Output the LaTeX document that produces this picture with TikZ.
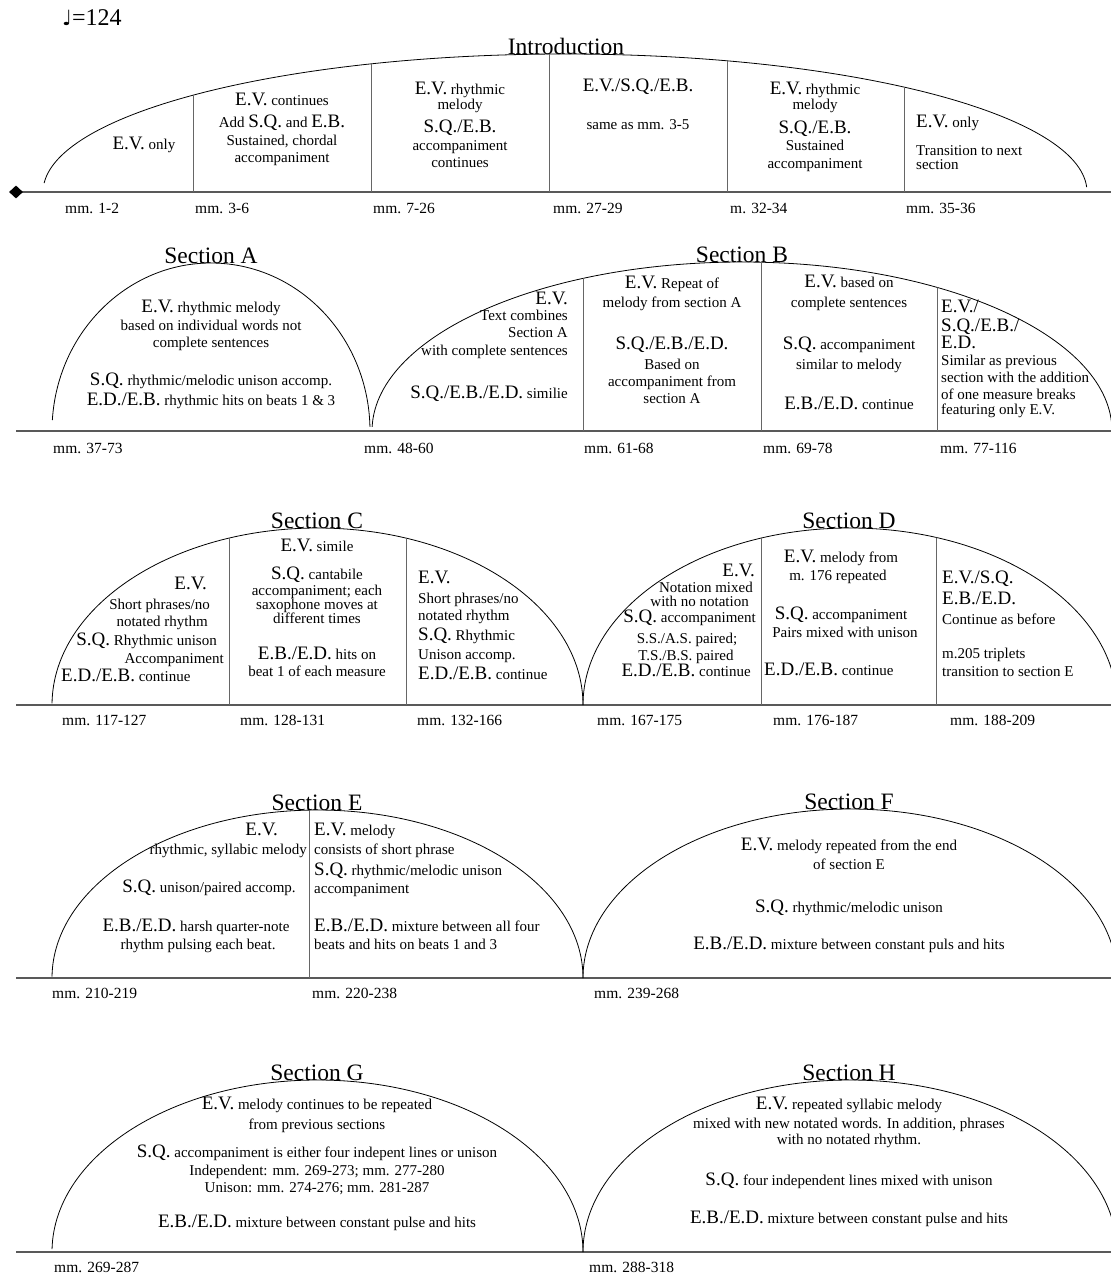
\documentclass[tikz,border=0pt]{standalone}
\usepackage{fontspec}
\setmainfont{Liberation Serif}
\newfontfamily\notefont{DejaVu Sans}
\usetikzlibrary{shapes.geometric}

% text sizes: running text, instrument abbreviations, section headings
\newcommand\txtsize{\fontsize{15}{17}\selectfont}
\newcommand\lblsize{\fontsize{15.5}{17}\selectfont}
\newcommand\abbr[1]{{\fontsize{19}{21}\selectfont #1}}
\newcommand\headsize{\fontsize{23.5}{26}\selectfont}

\tikzset{
  txt/.style={font=\txtsize, inner sep=0pt, anchor=mid},
  txtl/.style={txt, anchor=mid west},
  txtr/.style={txt, anchor=mid east},
  lbl/.style={font=\lblsize, inner sep=0pt, anchor=mid west},
  head/.style={font=\headsize, inner sep=0pt, anchor=base},
  dome/.style={line width=0.8pt, black},
  divider/.style={line width=0.7pt, black!60},
  axis/.style={line width=1.4pt, black!65},
}

\begin{document}
\begin{tikzpicture}[x=1pt, y=-1pt]
\useasboundingbox (0,0) rectangle (1111,1277);
\fill[white] (0,0) rectangle (1111,1277);

% ---------------- tempo ----------------
\node[font=\fontsize{24}{26}\selectfont, inner sep=0pt, anchor=base west] (tempo) at (62,25) {{\notefont\fontsize{21}{24}\selectfont ♩}=124};

% ================= Introduction =================
\draw[axis] (16,192) -- (1111,192);
\node[diamond, fill=black, inner sep=0pt, minimum width=14pt, minimum height=13pt] (start) at (16,192) {};
\draw[dome] (565,192) ++(183.7:522 and 138) arc[start angle=183.7, end angle=358, x radius=522, y radius=138];
\begin{scope}
  \clip (565,192) ellipse [x radius=522, y radius=138];
  \foreach \x in {193,371,549,727,904} \draw[divider] (\x,192) -- (\x,40);
\end{scope}
\node[head] (tIntro) at (566,54) {Introduction};

\node[txt] (i1a) at (144,147) {\abbr{E.V.} only};
\node[txt] (i2a) at (282,103) {\abbr{E.V.} continues};
\node[txt] (i2b) at (282,125) {Add \abbr{S.Q.} and \abbr{E.B.}};
\node[txt] (i2c) at (282,143) {Sustained, chordal};
\node[txt] (i2d) at (282,160) {accompaniment};
\node[txt] (i3a) at (460,92) {\abbr{E.V.} rhythmic};
\node[txt] (i3b) at (460,107) {melody};
\node[txt] (i3c) at (460,130) {\abbr{S.Q./E.B.}};
\node[txt] (i3d) at (460,148) {accompaniment};
\node[txt] (i3e) at (460,165) {continues};
\node[txt] (i4a) at (638,89) {\abbr{E.V./S.Q./E.B.}};
\node[txt] (i4b) at (638,127) {same as mm. 3-5};
\node[txt] (i5a) at (815,92) {\abbr{E.V.} rhythmic};
\node[txt] (i5b) at (815,107) {melody};
\node[txt] (i5c) at (815,131) {\abbr{S.Q./E.B.}};
\node[txt] (i5d) at (815,148) {Sustained};
\node[txt] (i5e) at (815,166) {accompaniment};
\node[txtl] (i6a) at (916,125) {\abbr{E.V.} only};
\node[txtl] (i6b) at (916,153) {Transition to next};
\node[txtl] (i6c) at (916,167) {section};

\node[lbl] (m1) at (65,211) {mm. 1-2};
\node[lbl] (m2) at (195,211) {mm. 3-6};
\node[lbl] (m3) at (373,211) {mm. 7-26};
\node[lbl] (m4) at (553,211) {mm. 27-29};
\node[lbl] (m5) at (730,211) {m. 32-34};
\node[lbl] (m6) at (906,211) {mm. 35-36};

% ================= Sections A and B =================
\draw[axis] (16,431) -- (1111,431);
\draw[dome] (211,431) ++(183.75:159 and 168) arc[start angle=183.75, end angle=358.6, x radius=159, y radius=168];
\draw[dome] (742,431) ++(181.4:370 and 169) arc[start angle=181.4, end angle=360, x radius=370, y radius=169];
\begin{scope}
  \clip (742,431) ellipse [x radius=370, y radius=169];
  \foreach \x in {583,761,937} \draw[divider] (\x,431) -- (\x,250);
\end{scope}
\node[head] (tA) at (211,263) {Section A};
\node[head] (tB) at (742,262) {Section B};

\node[txt] (a1) at (211,310) {\abbr{E.V.} rhythmic melody};
\node[txt] (a2) at (211,328) {based on individual words not};
\node[txt] (a3) at (211,345) {complete sentences};
\node[txt] (a4) at (211,383) {\abbr{S.Q.} rhythmic/melodic unison accomp.};
\node[txt] (a5) at (211,403) {\abbr{E.D./E.B.} rhythmic hits on beats 1 \& 3};

\node[txtr] (b1a) at (568,302) {\abbr{E.V.}};
\node[txtr] (b1b) at (568,318) {Text combines};
\node[txtr] (b1c) at (568,335) {Section A};
\node[txtr] (b1d) at (568,353) {with complete sentences};
\node[txtr] (b1e) at (568,396) {\abbr{S.Q./E.B./E.D.} similie};

\node[txt] (b2a) at (672,286) {\abbr{E.V.} Repeat of};
\node[txt] (b2b) at (672,305) {melody from section A};
\node[txt] (b2c) at (672,347) {\abbr{S.Q./E.B./E.D.}};
\node[txt] (b2d) at (672,367) {Based on};
\node[txt] (b2e) at (672,384) {accompaniment from};
\node[txt] (b2f) at (672,401) {section A};

\node[txt] (b3a) at (849,285) {\abbr{E.V.} based on};
\node[txt] (b3b) at (849,305) {complete sentences};
\node[txt] (b3c) at (849,347) {\abbr{S.Q.} accompaniment};
\node[txt] (b3d) at (849,367) {similar to melody};
\node[txt] (b3e) at (849,407) {\abbr{E.B./E.D.} continue};

\node[txtl] (b4a) at (941,310) {\abbr{E.V./}};
\node[txtl] (b4b) at (941,329) {\abbr{S.Q./E.B./}};
\node[txtl] (b4c) at (941,346) {\abbr{E.D.}};
\node[txtl] (b4d) at (941,363) {Similar as previous};
\node[txtl] (b4e) at (941,380) {section with the addition};
\node[txtl] (b4f) at (941,397) {of one measure breaks};
\node[txtl] (b4g) at (941,412) {featuring only E.V.};

\node[lbl] (m7) at (53,451) {mm. 37-73};
\node[lbl] (m8) at (364,451) {mm. 48-60};
\node[lbl] (m9) at (584,451) {mm. 61-68};
\node[lbl] (m10) at (763,451) {mm. 69-78};
\node[lbl] (m11) at (940,451) {mm. 77-116};

% ================= Sections C and D =================
\draw[axis] (16,705) -- (1111,705);
\draw[dome] (317.5,705) ++(180.5:265.5 and 177) arc[start angle=180.5, end angle=360, x radius=265.5, y radius=177];
\draw[dome] (850,705) ++(180:267 and 177) arc[start angle=180, end angle=360, x radius=267, y radius=177];
\begin{scope}
  \clip (317.5,705) ellipse [x radius=265.5, y radius=177];
  \foreach \x in {229,406} \draw[divider] (\x,705) -- (\x,520);
\end{scope}
\begin{scope}
  \clip (850,705) ellipse [x radius=267, y radius=177];
  \foreach \x in {761,936} \draw[divider] (\x,705) -- (\x,520);
\end{scope}
\node[head] (tC) at (317,528) {Section C};
\node[head] (tD) at (849,528) {Section D};

\node[txtr] (c1a) at (207,587) {\abbr{E.V.}};
\node[txtr] (c1b) at (210,607) {Short phrases/no};
\node[txtr] (c1c) at (208,624) {notated rhythm};
\node[txtr] (c1d) at (217,643) {\abbr{S.Q.} Rhythmic unison};
\node[txtr] (c1e) at (224,661) {Accompaniment};
\node[txtl] (c1f) at (61,679) {\abbr{E.D./E.B.} continue};

\node[txt] (c2a) at (317,549) {\abbr{E.V.} simile};
\node[txt] (c2b) at (317,577) {\abbr{S.Q.} cantabile};
\node[txt] (c2c) at (317,593) {accompaniment; each};
\node[txt] (c2d) at (317,607) {saxophone moves at};
\node[txt] (c2e) at (317,621) {different times};
\node[txt] (c2f) at (317,657) {\abbr{E.B./E.D.} hits on};
\node[txt] (c2g) at (317,674) {beat 1 of each measure};

\node[txtl] (c3a) at (418,581) {\abbr{E.V.}};
\node[txtl] (c3b) at (418,601) {Short phrases/no};
\node[txtl] (c3c) at (418,618) {notated rhythm};
\node[txtl] (c3d) at (418,638) {\abbr{S.Q.} Rhythmic};
\node[txtl] (c3e) at (418,657) {Unison accomp.};
\node[txtl] (c3f) at (418,677) {\abbr{E.D./E.B.} continue};

\node[txtr] (d1a) at (755,574) {\abbr{E.V.}};
\node[txtr] (d1b) at (753,590) {Notation mixed};
\node[txtr] (d1c) at (749,604) {with no notation};
\node[txtr] (d1d) at (756,620) {\abbr{S.Q.} accompaniment};
\node[txt] (d1e) at (687,641) {S.S./A.S. paired;};
\node[txt] (d1f) at (686,658) {T.S./B.S. paired};
\node[txtr] (d1g) at (751,674) {\abbr{E.D./E.B.} continue};

\node[txt] (d2a) at (841,560) {\abbr{E.V.} melody from};
\node[txt] (d2b) at (838,578) {m. 176 repeated};
\node[txt] (d2c) at (841,617) {\abbr{S.Q.} accompaniment};
\node[txt] (d2d) at (845,635) {Pairs mixed with unison};
\node[txtl] (d2e) at (764,673) {\abbr{E.D./E.B.} continue};

\node[txtl] (d3a) at (942,581) {\abbr{E.V./S.Q.}};
\node[txtl] (d3b) at (942,602) {\abbr{E.B./E.D.}};
\node[txtl] (d3c) at (942,622) {Continue as before};
\node[txtl] (d3d) at (942,656) {m.205 triplets};
\node[txtl] (d3e) at (942,674) {transition to section E};

\node[lbl] (m12) at (62,723) {mm. 117-127};
\node[lbl] (m13) at (240,723) {mm. 128-131};
\node[lbl] (m14) at (417,723) {mm. 132-166};
\node[lbl] (m15) at (597,723) {mm. 167-175};
\node[lbl] (m16) at (773,723) {mm. 176-187};
\node[lbl] (m17) at (950,723) {mm. 188-209};

% ================= Sections E and F =================
\draw[axis] (16,978) -- (1111,978);
\draw[dome] (317.5,978) ++(180.5:265.5 and 168) arc[start angle=180.5, end angle=360, x radius=265.5, y radius=168];
\draw[dome] (850,978) ++(180:267 and 169) arc[start angle=180, end angle=360, x radius=267, y radius=169];
\begin{scope}
  \clip (317.5,978) ellipse [x radius=265.5, y radius=168];
  \draw[divider] (309,978) -- (309,800);
\end{scope}
\node[head] (tE) at (317,810) {Section E};
\node[head] (tF) at (849,809) {Section F};

\node[txtr] (e1a) at (278,833) {\abbr{E.V.}};
\node[txtr] (e1b) at (307,852) {rhythmic, syllabic melody};
\node[txt] (e1c) at (209,890) {\abbr{S.Q.} unison/paired accomp.};
\node[txt] (e1d) at (196,929) {\abbr{E.B./E.D.} harsh quarter-note};
\node[txt] (e1e) at (198,947) {rhythm pulsing each beat.};

\node[txtl] (e2a) at (314,833) {\abbr{E.V.} melody};
\node[txtl] (e2b) at (314,852) {consists of short phrase};
\node[txtl] (e2c) at (314,873) {\abbr{S.Q.} rhythmic/melodic unison};
\node[txtl] (e2d) at (314,891) {accompaniment};
\node[txtl] (e2e) at (314,929) {\abbr{E.B./E.D.} mixture between all four};
\node[txtl] (e2f) at (314,947) {beats and hits on beats 1 and 3};

\node[txt] (f1) at (849,848) {\abbr{E.V.} melody repeated from the end};
\node[txt] (f2) at (849,867) {of section E};
\node[txt] (f3) at (849,910) {\abbr{S.Q.} rhythmic/melodic unison};
\node[txt] (f4) at (849,947) {\abbr{E.B./E.D.} mixture between constant puls and hits};

\node[lbl] (m18) at (52,996) {mm. 210-219};
\node[lbl] (m19) at (312,996) {mm. 220-238};
\node[lbl] (m20) at (594,996) {mm. 239-268};

% ================= Sections G and H =================
\draw[axis] (16,1252) -- (1111,1252);
\draw[dome] (317.5,1252) ++(181:265.5 and 172) arc[start angle=181, end angle=360, x radius=265.5, y radius=172];
\draw[dome] (850,1252) ++(180:267 and 172) arc[start angle=180, end angle=360, x radius=267, y radius=172];
\node[head] (tG) at (317,1080) {Section G};
\node[head] (tH) at (849,1080) {Section H};

\node[txt] (g1) at (317,1107) {\abbr{E.V.} melody continues to be repeated};
\node[txt] (g2) at (317,1127) {from previous sections};
\node[txt] (g3) at (317,1155) {\abbr{S.Q.} accompaniment is either four indepent lines or unison};
\node[txt] (g4) at (317,1173) {Independent: mm. 269-273; mm. 277-280};
\node[txt] (g5) at (317,1190) {Unison: mm. 274-276; mm. 281-287};
\node[txt] (g6) at (317,1225) {\abbr{E.B./E.D.} mixture between constant pulse and hits};

\node[txt] (h1) at (849,1107) {\abbr{E.V.} repeated syllabic melody};
\node[txt] (h2) at (849,1126) {mixed with new notated words. In addition, phrases};
\node[txt] (h3) at (849,1142) {with no notated rhythm.};
\node[txt] (h4) at (849,1183) {\abbr{S.Q.} four independent lines mixed with unison};
\node[txt] (h5) at (849,1221) {\abbr{E.B./E.D.} mixture between constant pulse and hits};

\node[lbl] (m21) at (54,1270) {mm. 269-287};
\node[lbl] (m22) at (589,1270) {mm. 288-318};
\end{tikzpicture}
\end{document}
